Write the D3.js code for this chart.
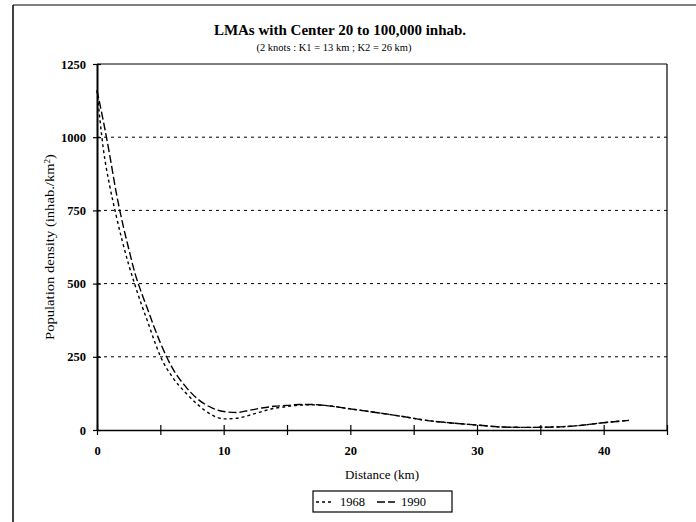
<!DOCTYPE html>
<html>
<head>
  <meta charset="utf-8">
  <script src="https://cdnjs.cloudflare.com/ajax/libs/d3/7.8.5/d3.min.js"></script>
  <title>LMAs</title>
  <style>
    body { margin: 0; background: #fff; }
    text { font-family: "Liberation Serif", "DejaVu Serif", serif; fill: #000; }
  </style>
</head>
<body>
<script>
// distance from centre (km)
var distance = [0, 0.5, 1, 1.5, 2, 2.5, 3, 3.5, 4, 4.5, 5, 6, 7, 8, 9, 10, 11, 12, 13, 14,
                15, 16, 17, 18, 20, 22, 24, 26, 28, 30, 32, 34, 36, 38, 40, 42];
// population density (inhab./km2)
var dens1968 = [1160, 960, 835, 735, 645, 565, 495, 430, 370, 308, 252, 178, 127, 85, 53, 38, 40, 50, 63, 74,
                80, 85, 86, 84, 72, 60, 47, 33, 24, 17, 10, 9, 10, 15, 25, 33];
var dens1990 = [1160, 1055, 940, 815, 710, 620, 535, 470, 412, 353, 298, 208, 148, 104, 77, 63, 60, 67, 75, 81,
                84, 87, 87, 84, 72, 60, 47, 33, 24, 17, 10, 9, 10, 15, 25, 33];
var yTicks = [0, 250, 500, 750, 1000, 1250];
var xTicks = [0, 5, 10, 15, 20, 25, 30, 35, 40, 45];
var xLabels = [0, 10, 20, 30, 40];
var series = ["1968", "1990"];

var W = 696, H = 522;
var pLeft = 97, pRight = 667, pTop = 64, pBottom = 430;

var x = d3.scaleLinear().domain([0, 45]).range([pLeft, pRight]);
var y = d3.scaleLinear().domain([0, 1250]).range([pBottom, pTop]);

var svg = d3.select("body").append("svg")
  .attr("width", W).attr("height", H);

// outer frame (left + top edges visible)
svg.append("line").attr("x1", 13).attr("x2", 13).attr("y1", 5).attr("y2", H)
  .attr("stroke", "#000").attr("stroke-width", 1.5);
svg.append("line").attr("x1", 13).attr("x2", W).attr("y1", 5).attr("y2", 5)
  .attr("stroke", "#000").attr("stroke-width", 1.2);

// titles
svg.append("text").attr("x", 340).attr("y", 35)
  .attr("text-anchor", "middle").attr("font-size", 15).attr("font-weight", "bold")
  .text("LMAs with Center 20 to 100,000 inhab.");
svg.append("text").attr("x", 334).attr("y", 51)
  .attr("text-anchor", "middle").attr("font-size", 10.5)
  .text("(2 knots : K1 = 13 km ; K2 = 26 km)");

// gridlines
svg.selectAll(".grid").data(yTicks.filter(function(d) { return d > 0 && d < 1250; }))
  .enter().append("line")
  .attr("x1", pLeft).attr("x2", pRight)
  .attr("y1", function(d) { return y(d); }).attr("y2", function(d) { return y(d); })
  .attr("stroke", "#000").attr("stroke-width", 1).attr("stroke-dasharray", "3,4");

// plot frame top and right
svg.append("line").attr("x1", pLeft).attr("x2", pRight).attr("y1", pTop).attr("y2", pTop)
  .attr("stroke", "#000").attr("stroke-width", 1);
svg.append("line").attr("x1", pRight).attr("x2", pRight).attr("y1", pTop).attr("y2", pBottom)
  .attr("stroke", "#000").attr("stroke-width", 1.2);

// axes
var yAxis = d3.axisLeft(y).tickValues(yTicks).tickSize(0).tickPadding(11).tickFormat(d3.format("d"));
var gy = svg.append("g").attr("transform", "translate(" + pLeft + ",0)").call(yAxis);
gy.select(".domain").attr("stroke-width", 2);
gy.selectAll("text").attr("font-size", 12.5).attr("font-weight", "bold")
  .style("font-family", "'Liberation Serif', serif");
gy.selectAll(".tick").append("line").attr("x1", -4).attr("x2", 4).attr("stroke", "#000").attr("stroke-width", 1.2);

var xAxis = d3.axisBottom(x).tickValues(xTicks).tickSize(0).tickPadding(16)
  .tickFormat(function(d) { return xLabels.indexOf(d) >= 0 ? d : ""; });
var gx = svg.append("g").attr("transform", "translate(0," + pBottom + ")").call(xAxis);
gx.select(".domain").attr("stroke-width", 1.5);
gx.selectAll("text").attr("font-size", 12.5).attr("font-weight", "bold")
  .style("font-family", "'Liberation Serif', serif");
gx.selectAll(".tick").append("line").attr("y1", -5).attr("y2", 5).attr("stroke", "#000").attr("stroke-width", 1.2);

// axis titles
svg.append("text").attr("x", (pLeft + pRight) / 2).attr("y", 479)
  .attr("text-anchor", "middle").attr("font-size", 13)
  .text("Distance (km)");
svg.append("text").attr("transform", "translate(54," + ((pTop + pBottom) / 2) + ") rotate(-90)")
  .attr("text-anchor", "middle").attr("font-size", 13)
  .attr("textLength", 186).attr("lengthAdjust", "spacingAndGlyphs")
  .html("Population density (inhab./km<tspan baseline-shift='super' font-size='8'>2</tspan>)");

// curves
var dashes = { "1968": "3,3", "1990": "8,3" };
var values = { "1968": dens1968, "1990": dens1990 };
var line = d3.line()
  .x(function(d, i) { return x(distance[i]); })
  .y(function(d) { return y(d); })
  .curve(d3.curveMonotoneX);

svg.selectAll(".curve").data(series).enter().append("path")
  .attr("d", function(s) { return line(values[s]); })
  .attr("fill", "none").attr("stroke", "#000").attr("stroke-width", 1.4)
  .attr("stroke-dasharray", function(s) { return dashes[s]; });

// legend
var lg = svg.append("g");
lg.append("rect").attr("x", 313).attr("y", 491).attr("width", 139).attr("height", 21)
  .attr("fill", "#fff").attr("stroke", "#000").attr("stroke-width", 1.2);
var lx = [316, 377];
series.forEach(function(s, i) {
  lg.append("line").attr("x1", lx[i]).attr("x2", lx[i] + 18).attr("y1", 502).attr("y2", 502)
    .attr("stroke", "#000").attr("stroke-width", 1.4).attr("stroke-dasharray", dashes[s]);
  lg.append("text").attr("x", lx[i] + 24).attr("y", 506).attr("font-size", 12.5).text(s);
});
</script>
</body>
</html>
